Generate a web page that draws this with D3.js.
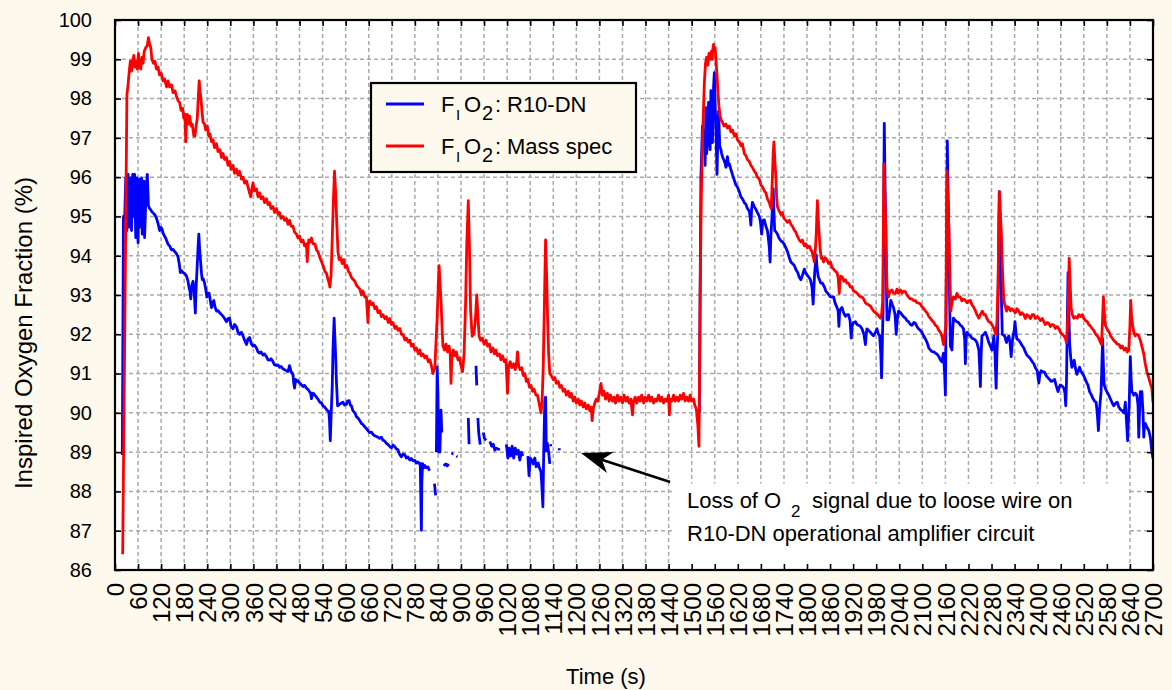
<!DOCTYPE html>
<html>
<head>
<meta charset="utf-8">
<script src="https://cdn.jsdelivr.net/npm/d3@7"></script>
<style>
  html, body { margin: 0; padding: 0; background: #fdf9ec; }
  svg { display: block; font-family: "Liberation Sans", Arial, sans-serif; }
</style>
</head>
<body>
<svg id="chart" width="1172" height="690"></svg>
<script>
// ---------------- DATA ----------------
const xTickValues = d3.range(0, 2701, 60);
const yTickValues = d3.range(86, 101, 1);
const xLabel = "Time (s)";
const yLabel = "Inspired Oxygen Fraction (%)";
const seriesNames = ["R10-DN", "Mass spec"];

// F_I O_2 : Mass spectrometer  [time (s), %]
const massSpec = [[20,86.4],[31,98.1],[34,98.35],[37,98.7],[40,98.95],[43,98.7],[46,98.95],[49,99.1],[52,98.8],[55,98.95],[58,98.75],[61,99.15],[64,98.8],[67,98.75],[70,99.05],[73,98.9],[76,99.2],[80,99.3],[84,99.35],[87,99.55],[90,99.4],[93,99.3],[96,99.0],[100,98.9],[104,98.95],[108,98.75],[112,98.8],[116,98.6],[120,98.65],[125,98.45],[129,98.5],[134,98.3],[138,98.45],[142,98.3],[147,98.35],[151,98.15],[156,98.2],[160,98.05],[164,97.95],[168,97.9],[172,97.7],[176,97.75],[179,97.5],[182,97.6],[184,96.9],[186,97.4],[188,97.6],[191,97.35],[194,97.55],[198,97.3],[201,97.35],[205,97.05],[208,97.05],[211,97.3],[214,97.5],[217,98.1],[219,98.45],[221,98.2],[224,97.95],[227,97.6],[229,97.4],[233,97.35],[236,97.2],[240,97.3],[244,97.05],[247,97.1],[251,96.9],[255,96.95],[259,96.75],[264,96.85],[268,96.65],[273,96.7],[277,96.5],[281,96.6],[285,96.45],[290,96.5],[294,96.3],[298,96.4],[302,96.2],[307,96.3],[311,96.1],[316,96.2],[320,96.05],[324,96.15],[329,95.95],[333,96.0],[337,95.85],[342,95.9],[346,95.75],[350,95.6],[353,95.5],[356,95.7],[359,95.85],[363,95.65],[368,95.7],[372,95.5],[376,95.6],[380,95.45],[385,95.5],[389,95.35],[394,95.45],[398,95.3],[402,95.35],[406,95.2],[411,95.25],[415,95.1],[420,95.2],[424,95.05],[428,95.1],[432,94.95],[437,95.0],[441,94.9],[446,94.95],[450,94.8],[454,94.9],[458,94.75],[463,94.75],[467,94.6],[472,94.55],[476,94.45],[480,94.5],[484,94.35],[489,94.4],[493,94.25],[498,94.3],[500,93.85],[502,94.2],[504,94.4],[508,94.35],[511,94.45],[515,94.3],[520,94.3],[524,94.15],[528,94.1],[533,93.95],[537,93.85],[541,93.75],[546,93.6],[550,93.55],[554,93.4],[557,93.3],[559,93.2],[562,93.5],[565,94.4],[568,95.4],[571,96.15],[574,95.6],[577,94.8],[580,94.1],[583,93.9],[587,93.95],[591,93.8],[595,93.9],[599,93.7],[603,93.75],[607,93.6],[611,93.55],[615,93.45],[619,93.4],[624,93.35],[628,93.25],[632,93.2],[637,93.15],[641,93.0],[645,93.1],[650,92.95],[654,92.95],[656,92.6],[658,92.3],[660,92.8],[663,92.85],[667,92.75],[671,92.8],[676,92.65],[680,92.7],[684,92.55],[689,92.6],[693,92.45],[697,92.5],[702,92.4],[706,92.45],[711,92.3],[715,92.4],[719,92.25],[723,92.3],[728,92.15],[732,92.2],[736,92.1],[741,92.15],[745,92.0],[749,92.0],[754,91.85],[758,91.9],[763,91.8],[767,91.85],[771,91.7],[775,91.75],[780,91.6],[784,91.65],[789,91.5],[793,91.6],[797,91.45],[801,91.5],[806,91.4],[810,91.45],[815,91.3],[819,91.35],[823,91.2],[827,91.0],[830,91.1],[832,91.15],[835,91.8],[838,92.4],[841,93.3],[843,93.75],[846,93.2],[848,92.85],[851,92.1],[853,91.7],[857,91.6],[861,91.75],[865,91.55],[869,91.7],[872,91.5],[874,90.75],[876,91.4],[880,91.6],[884,91.45],[888,91.55],[892,91.35],[896,91.4],[900,91.2],[904,91.05],[908,91.5],[912,92.8],[915,94.3],[919,95.4],[922,94.2],[925,92.6],[929,91.95],[933,92.0],[937,92.3],[941,93.0],[944,92.5],[947,91.95],[951,91.85],[955,91.9],[960,91.75],[965,91.85],[969,91.7],[974,91.75],[978,91.55],[983,91.65],[987,91.5],[991,91.6],[995,91.45],[1000,91.5],[1004,91.35],[1008,91.45],[1013,91.3],[1017,91.35],[1021,90.5],[1024,91.2],[1028,91.3],[1032,91.15],[1037,91.25],[1041,91.1],[1045,91.3],[1047,91.55],[1050,91.2],[1054,91.1],[1058,91.15],[1062,90.95],[1066,91.0],[1070,90.8],[1074,90.85],[1078,90.65],[1082,90.7],[1086,90.55],[1090,90.6],[1095,90.45],[1099,90.45],[1103,90.25],[1106,90.1],[1108,90.0],[1111,90.3],[1114,91.2],[1117,92.8],[1120,94.4],[1123,93.4],[1125,92.5],[1128,91.5],[1131,91.0],[1135,90.95],[1140,90.85],[1144,90.9],[1148,90.75],[1153,90.8],[1157,90.65],[1161,90.7],[1166,90.55],[1170,90.6],[1174,90.45],[1179,90.55],[1183,90.4],[1187,90.5],[1192,90.3],[1196,90.4],[1200,90.25],[1205,90.35],[1209,90.2],[1213,90.3],[1218,90.15],[1222,90.25],[1226,90.1],[1231,90.2],[1235,90.05],[1239,90.15],[1241,89.8],[1244,90.1],[1248,90.25],[1252,90.35],[1256,90.3],[1260,90.5],[1264,90.75],[1268,90.45],[1272,90.55],[1276,90.35],[1281,90.5],[1285,90.3],[1289,90.45],[1294,90.3],[1298,90.4],[1302,90.25],[1307,90.45],[1311,90.3],[1315,90.4],[1320,90.25],[1324,90.45],[1329,90.3],[1333,90.4],[1337,90.25],[1342,90.35],[1346,89.95],[1349,90.3],[1353,90.4],[1357,90.25],[1362,90.4],[1366,90.3],[1370,90.45],[1375,90.25],[1379,90.4],[1383,90.3],[1388,90.45],[1392,90.3],[1396,90.4],[1401,90.25],[1405,90.35],[1409,90.3],[1414,90.45],[1418,90.3],[1422,90.4],[1427,90.25],[1431,90.35],[1435,90.3],[1440,90.45],[1442,89.95],[1444,90.35],[1448,90.3],[1453,90.45],[1457,90.3],[1461,90.4],[1466,90.3],[1470,90.45],[1474,90.35],[1479,90.5],[1483,90.3],[1487,90.4],[1492,90.3],[1496,90.45],[1500,90.3],[1505,90.35],[1508,90.2],[1512,90.1],[1516,89.7],[1519,89.15],[1522,93.0],[1525,95.5],[1529,97.2],[1533,98.4],[1536,98.9],[1539,99.05],[1542,98.85],[1545,99.15],[1548,99.0],[1551,99.2],[1553,99.0],[1555,99.25],[1557,99.38],[1559,99.2],[1561,99.3],[1563,99.0],[1566,98.6],[1568,98.2],[1571,97.8],[1574,97.55],[1577,97.45],[1580,97.4],[1584,97.3],[1589,97.35],[1593,97.25],[1598,97.3],[1602,97.15],[1606,97.2],[1611,97.05],[1615,97.1],[1619,96.95],[1624,96.9],[1628,96.8],[1632,96.85],[1637,96.6],[1641,96.55],[1645,96.45],[1650,96.4],[1654,96.3],[1658,96.25],[1663,96.15],[1667,96.1],[1671,96.0],[1676,95.95],[1680,95.8],[1684,95.75],[1689,95.65],[1693,95.6],[1697,95.45],[1702,95.35],[1705,95.25],[1707,95.2],[1710,96.0],[1712,96.6],[1714,96.9],[1716,96.5],[1719,96.0],[1721,95.5],[1723,95.25],[1727,95.15],[1732,95.05],[1736,95.1],[1740,94.95],[1745,94.9],[1749,94.85],[1754,94.9],[1758,94.8],[1762,94.75],[1767,94.65],[1771,94.6],[1775,94.5],[1780,94.4],[1784,94.35],[1788,94.4],[1793,94.25],[1797,94.3],[1801,94.2],[1806,94.25],[1810,94.15],[1813,94.1],[1816,94.0],[1819,93.84],[1822,94.2],[1824,94.55],[1827,95.4],[1829,95.0],[1831,94.64],[1834,94.2],[1837,93.93],[1840,93.95],[1843,93.84],[1847,93.95],[1852,93.9],[1856,93.8],[1861,93.84],[1865,93.7],[1869,93.66],[1874,93.6],[1878,93.57],[1881,93.45],[1884,93.04],[1886,93.4],[1888,93.48],[1892,93.45],[1896,93.35],[1900,93.39],[1904,93.3],[1908,93.3],[1913,93.2],[1917,93.21],[1921,93.1],[1926,93.08],[1930,93.05],[1934,93.0],[1939,92.95],[1943,92.95],[1947,92.9],[1952,92.8],[1956,92.77],[1960,92.75],[1965,92.72],[1969,92.65],[1973,92.59],[1978,92.55],[1984,92.5],[1988,92.45],[1991,92.41],[1994,92.5],[1997,92.86],[2000,96.34],[2003,95.4],[2005,94.64],[2008,93.21],[2012,92.95],[2016,93.1],[2021,93.13],[2025,93.05],[2030,93.04],[2034,93.15],[2038,93.05],[2043,93.13],[2047,93.05],[2051,93.1],[2056,93.08],[2060,93.0],[2064,92.95],[2069,92.9],[2073,92.9],[2078,92.85],[2082,92.86],[2086,92.8],[2090,92.8],[2095,92.77],[2099,92.7],[2104,92.65],[2108,92.59],[2112,92.55],[2117,92.45],[2121,92.41],[2125,92.35],[2130,92.3],[2134,92.23],[2138,92.2],[2143,92.1],[2147,92.05],[2151,91.95],[2155,91.74],[2158,91.95],[2161,92.23],[2164,96.16],[2167,95.3],[2169,94.64],[2172,93.4],[2174,92.59],[2177,92.8],[2181,92.95],[2186,92.9],[2190,93.04],[2194,92.95],[2199,92.95],[2203,92.85],[2207,92.9],[2212,92.86],[2216,92.8],[2220,92.85],[2225,92.86],[2229,92.75],[2234,92.68],[2238,92.6],[2242,92.5],[2247,92.41],[2251,92.5],[2256,92.59],[2260,92.5],[2264,92.5],[2268,92.4],[2273,92.32],[2277,92.3],[2282,92.23],[2286,92.15],[2291,92.0],[2294,92.3],[2297,93.3],[2299,94.8],[2301,95.63],[2303,95.1],[2306,94.46],[2309,93.5],[2312,92.86],[2316,92.7],[2319,92.59],[2322,92.7],[2325,92.68],[2329,92.6],[2333,92.65],[2338,92.59],[2342,92.55],[2346,92.65],[2351,92.59],[2355,92.5],[2359,92.55],[2364,92.5],[2368,92.4],[2372,92.5],[2377,92.46],[2381,92.4],[2386,92.5],[2390,92.5],[2394,92.4],[2399,92.45],[2403,92.41],[2407,92.35],[2412,92.4],[2416,92.32],[2420,92.25],[2425,92.3],[2429,92.28],[2433,92.2],[2438,92.25],[2442,92.23],[2446,92.15],[2451,92.2],[2455,92.14],[2459,92.05],[2464,92.0],[2468,91.96],[2472,91.9],[2475,91.79],[2477,92.1],[2479,92.59],[2482,93.93],[2484,93.4],[2487,92.68],[2490,92.5],[2494,92.41],[2498,92.45],[2503,92.41],[2507,92.5],[2512,92.45],[2516,92.5],[2520,92.4],[2525,92.35],[2529,92.32],[2533,92.25],[2538,92.2],[2542,92.14],[2546,92.1],[2551,92.0],[2555,91.96],[2559,91.9],[2563,91.8],[2566,91.74],[2568,92.2],[2571,92.95],[2573,92.6],[2576,92.23],[2580,92.15],[2583,92.1],[2586,92.05],[2590,91.95],[2594,91.9],[2599,91.83],[2603,91.8],[2607,91.75],[2612,91.74],[2616,91.65],[2620,91.7],[2625,91.6],[2629,91.65],[2633,91.55],[2637,91.6],[2640,92.2],[2642,92.86],[2644,92.5],[2647,92.23],[2650,92.05],[2654,91.96],[2658,92.0],[2663,91.96],[2667,91.85],[2671,91.7],[2676,91.5],[2680,91.25],[2684,91.05],[2689,90.89],[2693,90.75],[2697,90.63],[2700,90.27]];

// F_I O_2 : R10-DN sensor  [time (s), %]; null = signal lost
const r10dn = [[19,88.93],[22,95.0],[25,94.9],[28,95.98],[31,94.64],[34,96.07],[37,94.73],[40,95.98],[43,94.64],[46,96.07],[49,95.0],[51,96.07],[54,94.46],[57,95.98],[60,94.33],[63,95.94],[66,94.73],[69,95.98],[71,94.55],[75,95.9],[77,94.46],[81,95.71],[84,96.07],[87,95.27],[90,95.2],[92,95.18],[96,95.12],[99,95.09],[103,95.05],[106,95.0],[109,94.92],[112,94.82],[116,94.64],[119,94.72],[122,94.69],[126,94.55],[129,94.5],[133,94.42],[138,94.29],[142,94.25],[147,94.15],[151,94.16],[155,94.11],[160,94.05],[164,93.97],[167,93.8],[170,93.57],[173,93.62],[177,93.57],[181,93.55],[186,93.48],[190,93.35],[193,93.17],[195,93.1],[197,92.9],[200,93.25],[203,93.35],[206,93.1],[209,92.54],[211,93.2],[213,93.57],[216,94.2],[218,94.55],[220,94.2],[222,93.93],[225,93.55],[227,93.39],[230,93.4],[233,93.3],[236,93.15],[239,92.95],[242,93.05],[245,93.04],[248,92.85],[251,92.68],[254,92.8],[257,92.86],[260,92.7],[264,92.59],[268,92.6],[273,92.54],[277,92.5],[281,92.46],[285,92.4],[290,92.32],[294,92.4],[298,92.41],[302,92.2],[307,92.14],[311,92.25],[316,92.19],[320,92.05],[324,92.0],[329,92.05],[333,91.96],[337,91.85],[342,91.74],[346,91.88],[350,91.92],[355,91.75],[359,91.7],[363,91.72],[368,91.65],[372,91.55],[376,91.52],[380,91.55],[385,91.47],[389,91.5],[394,91.43],[398,91.35],[402,91.34],[406,91.38],[411,91.3],[415,91.22],[420,91.21],[424,91.22],[428,91.16],[432,91.18],[437,91.12],[441,91.1],[446,91.07],[450,91.05],[454,91.2],[458,91.05],[463,90.98],[465,90.75],[467,90.63],[470,90.85],[472,90.8],[476,90.82],[480,90.76],[484,90.72],[489,90.67],[493,90.7],[498,90.63],[502,90.6],[506,90.54],[509,90.5],[511,90.36],[514,90.5],[517,90.49],[520,90.45],[524,90.4],[528,90.35],[533,90.27],[537,90.25],[541,90.18],[545,90.15],[550,90.09],[553,90.05],[556,90.04],[558,89.8],[560,89.29],[562,89.9],[565,90.63],[567,91.6],[570,92.41],[572,91.9],[574,91.43],[576,90.8],[579,90.18],[582,90.2],[585,90.22],[589,90.25],[593,90.27],[597,90.2],[602,90.22],[605,90.3],[609,90.31],[612,90.2],[615,90.18],[619,90.05],[624,90.0],[628,89.9],[632,89.87],[637,89.8],[641,89.73],[645,89.7],[650,89.64],[654,89.6],[658,89.55],[662,89.5],[667,89.51],[671,89.45],[675,89.42],[680,89.4],[684,89.38],[688,89.35],[693,89.38],[697,89.3],[701,89.29],[706,89.22],[710,89.2],[714,89.15],[719,89.11],[723,89.18],[727,89.15],[732,89.08],[736,89.06],[740,88.95],[745,88.88],[749,88.95],[754,88.93],[758,88.85],[762,88.88],[767,88.8],[771,88.84],[775,88.78],[780,88.79],[784,88.72],[788,88.75],[792,88.7],[794,88.71],[796,87.5],[797,87.01],[798,88.2],[800,88.71],[803,88.6],[806,88.66],[810,88.6],[814,88.62],[817,88.55],[819,88.53],null,[831,88.2],[834,87.9],null,[836,89.0],[838,91.17],[840,90.5],[842,89.0],[845,89.0],[848,90.07],[850,89.5],null,[855,88.65],[860,88.7],[864,88.65],[868,88.7],null,[875,88.95],[880,88.97],null,[888,88.9],[891,88.88],null,[919,89.87],[921,89.2],null,[939,91.2],[941,90.7],null,[944,89.87],[946,89.5],[950,89.19],null,[958,89.5],[961,89.35],[965,89.3],null,[975,89.27],[980,89.15],[984,89.2],[988,89.05],[992,89.1],[996,89.08],[1001,89.06],null,[1018,89.2],[1022,88.85],[1025,89.1],[1029,88.9],[1033,89.15],[1037,88.85],[1041,89.1],[1045,88.95],[1049,89.05],[1053,88.8],[1057,89.0],[1061,88.9],null,[1074,88.9],[1077,88.4],[1080,88.85],[1084,88.8],[1088,88.7],[1092,88.85],[1096,88.6],null,[1100,88.75],[1104,88.6],[1108,88.5],[1110,88.2],[1113,87.61],[1115,88.9],[1118,90.3],[1120,90.4],[1122,89.0],null,[1124,89.25],[1128,89.0],[1131,88.7],null,[1133,89.2],[1134,89.15],null,[1155,89.1],[1156,89.05],null,[1520,90.0],[1524,95.98],[1528,97.3],[1531,96.9],[1533,97.1],[1535,96.3],[1537,97.77],[1539,96.6],[1541,96.88],[1544,97.9],[1546,97.68],[1548,96.7],[1550,98.2],[1552,97.3],[1554,96.88],[1557,98.3],[1559,98.66],[1561,97.9],[1563,97.3],[1566,96.07],[1568,97.0],[1570,97.68],[1573,96.79],[1576,96.7],[1578,96.6],[1581,96.5],[1584,96.43],[1587,96.35],[1589,96.25],[1593,96.52],[1596,96.3],[1598,96.34],[1602,96.2],[1606,96.07],[1610,95.95],[1615,95.8],[1619,95.75],[1624,95.63],[1628,95.5],[1632,95.45],[1637,95.35],[1641,95.31],[1645,95.2],[1650,95.13],[1652,95.0],[1654,94.78],[1656,95.2],[1658,95.36],[1663,95.25],[1667,95.18],[1671,95.1],[1676,95.0],[1679,94.85],[1682,94.55],[1685,94.9],[1689,94.91],[1693,94.75],[1697,94.64],[1700,94.4],[1702,94.2],[1704,93.84],[1706,94.5],[1709,95.0],[1712,95.71],[1714,95.1],[1716,94.64],[1720,94.6],[1723,94.55],[1727,94.45],[1732,94.38],[1736,94.35],[1741,94.29],[1745,94.2],[1749,94.11],[1754,93.95],[1758,93.84],[1762,93.8],[1767,93.75],[1771,93.65],[1776,93.57],[1780,93.45],[1784,93.39],[1788,93.5],[1793,93.66],[1797,93.55],[1801,93.5],[1805,93.45],[1809,93.39],[1813,93.2],[1816,92.77],[1818,93.2],[1820,93.57],[1822,93.8],[1824,94.02],[1826,93.7],[1829,93.48],[1832,93.4],[1836,93.3],[1840,93.3],[1845,93.21],[1849,93.1],[1854,93.04],[1857,93.0],[1861,92.95],[1865,92.95],[1869,92.95],[1873,92.8],[1878,92.68],[1881,92.6],[1883,92.2],[1885,92.59],[1888,92.65],[1891,92.68],[1895,92.55],[1900,92.46],[1904,92.5],[1908,92.5],[1912,92.35],[1915,91.9],[1917,92.19],[1921,92.3],[1926,92.32],[1930,92.25],[1934,92.23],[1939,92.2],[1943,92.14],[1948,92.0],[1952,91.74],[1954,92.0],[1956,92.14],[1960,92.1],[1965,92.05],[1969,92.0],[1973,91.96],[1978,92.05],[1982,92.14],[1986,92.0],[1989,91.96],[1992,91.5],[1994,90.89],[1996,91.8],[1998,92.68],[2001,97.37],[2003,95.8],[2005,94.64],[2008,92.37],[2012,92.37],[2015,92.6],[2018,92.86],[2022,92.75],[2025,92.68],[2029,92.5],[2032,92.0],[2035,92.4],[2038,92.59],[2043,92.55],[2047,92.5],[2051,92.45],[2056,92.41],[2060,92.35],[2064,92.32],[2069,92.25],[2073,92.23],[2078,92.3],[2082,92.28],[2086,92.2],[2090,92.14],[2095,92.1],[2099,92.05],[2104,91.95],[2108,91.88],[2112,91.8],[2117,91.65],[2121,91.6],[2125,91.56],[2130,91.55],[2134,91.52],[2138,91.5],[2143,91.43],[2147,91.35],[2151,91.3],[2155,91.52],[2158,91.0],[2160,90.45],[2163,94.0],[2165,96.92],[2167,95.6],[2169,94.64],[2171,92.8],[2173,91.7],[2177,91.6],[2179,92.1],[2181,92.41],[2186,92.35],[2190,92.32],[2194,92.3],[2199,92.23],[2203,92.2],[2207,92.14],[2210,91.9],[2212,91.25],[2214,91.9],[2216,92.05],[2220,92.0],[2225,91.96],[2229,91.9],[2234,91.88],[2238,91.85],[2242,91.79],[2247,91.6],[2249,91.2],[2251,90.67],[2253,91.5],[2255,91.96],[2260,92.0],[2264,92.05],[2268,91.95],[2273,91.79],[2277,91.7],[2281,91.6],[2284,91.8],[2286,91.96],[2289,91.5],[2292,90.63],[2294,91.5],[2296,91.96],[2298,93.8],[2300,95.63],[2302,94.8],[2304,93.75],[2306,92.8],[2308,92.0],[2311,91.98],[2314,91.96],[2317,91.85],[2319,91.79],[2322,91.9],[2325,91.96],[2328,91.8],[2331,91.43],[2334,91.8],[2336,91.96],[2339,92.1],[2341,92.32],[2344,92.0],[2346,91.88],[2351,91.85],[2355,91.79],[2359,91.72],[2364,91.65],[2368,91.55],[2372,91.47],[2377,91.42],[2381,91.38],[2386,91.3],[2390,91.25],[2394,91.15],[2399,91.07],[2401,90.9],[2403,90.76],[2406,91.0],[2409,91.07],[2413,91.05],[2418,91.03],[2422,90.95],[2427,90.89],[2431,90.85],[2435,90.8],[2440,90.82],[2444,90.85],[2448,90.7],[2453,90.54],[2456,90.65],[2459,90.71],[2464,90.68],[2468,90.63],[2471,90.5],[2473,90.18],[2475,90.8],[2476,91.52],[2479,93.57],[2481,92.6],[2483,91.79],[2486,91.4],[2489,91.16],[2492,91.25],[2495,91.34],[2498,91.15],[2502,90.98],[2505,91.05],[2509,91.16],[2513,91.05],[2518,90.98],[2522,90.9],[2526,90.8],[2531,90.7],[2535,90.54],[2540,90.45],[2544,90.36],[2548,90.3],[2552,90.27],[2555,90.0],[2558,89.55],[2561,90.1],[2565,90.54],[2567,91.2],[2569,91.88],[2571,91.2],[2573,90.71],[2577,90.6],[2580,90.54],[2585,90.45],[2589,90.36],[2594,90.25],[2598,90.18],[2603,90.25],[2607,90.27],[2611,90.15],[2615,90.09],[2620,90.05],[2624,90.0],[2626,90.1],[2628,90.27],[2631,89.8],[2634,89.29],[2636,89.8],[2638,90.18],[2641,91.43],[2643,90.9],[2645,90.54],[2648,90.5],[2650,90.45],[2654,90.5],[2658,90.45],[2661,90.2],[2663,89.38],[2665,90.0],[2667,90.54],[2671,90.54],[2674,90.0],[2676,89.38],[2678,89.7],[2680,89.73],[2684,89.64],[2689,89.55],[2693,89.38],[2697,89.02],[2700,88.84]];

// Annotation (data coordinates)
const annotationLines = ["Loss of O", "2", "signal due to loose wire on", "R10-DN operational amplifier circuit"];
const arrowTip = [1212, 88.98];
const arrowTail = [1444, 88.24];

// ---------------- CHART ----------------
(function () {
const svg = d3.select("#chart");
const pLeft = 115, pRight = 1153, pTop = 20, pBottom = 570;
const x = d3.scaleLinear().domain([0, 2700]).range([pLeft, pRight]);
const y = d3.scaleLinear().domain([86, 100]).range([pBottom, pTop]);
const FONT = '"Liberation Sans", Arial, sans-serif';

// plot background
svg.append("rect").attr("x", pLeft).attr("y", pTop).attr("width", pRight - pLeft).attr("height", pBottom - pTop).attr("fill", "#ffffff");

// grid
const grid = svg.append("g").attr("stroke", "#a9a9a9").attr("stroke-width", 1.5).attr("stroke-dasharray", "4,3");
grid.selectAll("line.v").data(xTickValues.filter(d => d > 0 && d < 2700)).enter().append("line")
  .attr("x1", d => x(d)).attr("x2", d => x(d)).attr("y1", pTop).attr("y2", pBottom);
grid.selectAll("line.h").data(yTickValues.filter(d => d > 86 && d < 100)).enter().append("line")
  .attr("x1", pLeft).attr("x2", pRight).attr("y1", d => y(d)).attr("y2", d => y(d));

// annotation white box (hides grid)
const boxT0 = 1457, boxT1 = 2633, boxV0 = 88.2;
svg.append("rect").attr("x", x(boxT0)).attr("y", y(boxV0)).attr("width", x(boxT1) - x(boxT0)).attr("height", y(86) - y(boxV0) - 1).attr("fill", "#ffffff");

// lines
svg.append("defs").append("clipPath").attr("id", "clip").append("rect")
  .attr("x", pLeft).attr("y", pTop).attr("width", pRight - pLeft).attr("height", pBottom - pTop);
const line = d3.line().defined(d => d !== null).x(d => x(d[0])).y(d => y(d[1]));
const gLines = svg.append("g").attr("clip-path", "url(#clip)");
gLines.append("path").datum(r10dn).attr("d", line).attr("fill", "none").attr("stroke", "#0000ff").attr("stroke-width", 2.8).attr("stroke-linejoin", "round");
gLines.append("path").datum(massSpec).attr("d", line).attr("fill", "none").attr("stroke", "#ff0000").attr("stroke-width", 2.8).attr("stroke-linejoin", "round");

// axes
function styleAxis(g) {
  g.select(".domain").remove();
  g.selectAll(".tick line").attr("stroke", "#000").attr("stroke-width", 1.6);
  g.selectAll("text").attr("fill", "#000").style("font-family", FONT);
}
svg.append("g").attr("transform", `translate(0,${pBottom})`)
  .call(d3.axisBottom(x).tickValues(xTickValues).tickSize(-6).tickSizeOuter(0).tickFormat(d3.format("d")))
  .call(styleAxis)
  .call(g => g.selectAll("text").attr("transform", "rotate(-90)").attr("x", -13).attr("y", 0).attr("dy", "0.36em")
      .style("text-anchor", "end").style("font-size", "24px"));
svg.append("g").attr("transform", `translate(0,${pTop})`)
  .call(d3.axisTop(x).tickValues(xTickValues).tickSize(-6).tickSizeOuter(0).tickFormat(""))
  .call(styleAxis);
svg.append("g").attr("transform", `translate(${pLeft},0)`)
  .call(d3.axisLeft(y).tickValues(yTickValues).tickSize(-6).tickSizeOuter(0).tickPadding(23).tickFormat(d3.format("d")))
  .call(styleAxis)
  .call(g => g.selectAll("text").style("font-size", "20px"));
svg.append("g").attr("transform", `translate(${pRight},0)`)
  .call(d3.axisRight(y).tickValues(yTickValues).tickSize(-6).tickSizeOuter(0).tickFormat(""))
  .call(styleAxis);

// frame
svg.append("rect").attr("x", pLeft).attr("y", pTop).attr("width", pRight - pLeft).attr("height", pBottom - pTop)
  .attr("fill", "none").attr("stroke", "#000").attr("stroke-width", 2.2);

// axis titles
svg.append("text").attr("x", 606).attr("y", 684).attr("text-anchor", "middle")
  .style("font-family", FONT).style("font-size", "22px").text(xLabel);
svg.append("text").attr("transform", "translate(32,333) rotate(-90)").attr("text-anchor", "middle")
  .style("font-family", FONT).style("font-size", "24px").text(yLabel);

// legend
const lg = svg.append("g");
lg.append("rect").attr("x", 371).attr("y", 83).attr("width", 265).attr("height", 89)
  .attr("fill", "#fdf9ec").attr("stroke", "#000").attr("stroke-width", 2.2);
const legendItems = [{name: seriesNames[0], color: "#0000ff", ly: 104}, {name: seriesNames[1], color: "#ff0000", ly: 146}];
legendItems.forEach(it => {
  lg.append("line").attr("x1", 386).attr("x2", 424).attr("y1", it.ly).attr("y2", it.ly)
    .attr("stroke", it.color).attr("stroke-width", 2.8);
  const base = it.ly + 8;
  const t = lg.append("text").style("font-family", FONT).style("font-size", "22px");
  t.append("tspan").attr("x", 441).attr("y", base).text("F");
  t.append("tspan").attr("x", 456).attr("y", base + 8).style("font-size", "15px").text("I");
  t.append("tspan").attr("x", 464).attr("y", base).text("O");
  t.append("tspan").attr("x", 482).attr("y", base + 8).style("font-size", "20px").text("2");
  t.append("tspan").attr("x", 495).attr("y", base).text(":");
  t.append("tspan").attr("x", 507).attr("y", base).text(it.name);
});

// annotation
const ann = svg.append("g");
const tip = [x(arrowTip[0]), y(arrowTip[1])], tail = [x(arrowTail[0]), y(arrowTail[1])];
const ddx = tail[0] - tip[0], ddy = tail[1] - tip[1], len = Math.hypot(ddx, ddy);
const ux = ddx / len, uy = ddy / len, nx = -uy, ny = ux;
const hl = 31, hw = 11, notch = 22;
ann.append("line").attr("x1", tail[0]).attr("y1", tail[1]).attr("x2", tip[0] + ux * notch).attr("y2", tip[1] + uy * notch)
  .attr("stroke", "#000").attr("stroke-width", 2.6);
ann.append("polygon").attr("points", [
  [tip[0], tip[1]],
  [tip[0] + ux * hl + nx * hw, tip[1] + uy * hl + ny * hw],
  [tip[0] + ux * notch, tip[1] + uy * notch],
  [tip[0] + ux * hl - nx * hw, tip[1] + uy * hl - ny * hw]
].map(p => p.join(",")).join(" ")).attr("fill", "#000");

const ax = x(1488), ab = y(87.58);
const at = ann.append("text").style("font-family", FONT).style("font-size", "22px");
at.append("tspan").attr("x", ax).attr("y", ab).text(annotationLines[0]);
at.append("tspan").attr("x", ax + 104).attr("y", ab + 9).style("font-size", "17px").text(annotationLines[1]);
at.append("tspan").attr("x", ax + 125).attr("y", ab).text(annotationLines[2]);
ann.append("text").attr("x", ax).attr("y", y(86.75)).style("font-family", FONT).style("font-size", "22px").text(annotationLines[3]);
})();
</script>
</body>
</html>
